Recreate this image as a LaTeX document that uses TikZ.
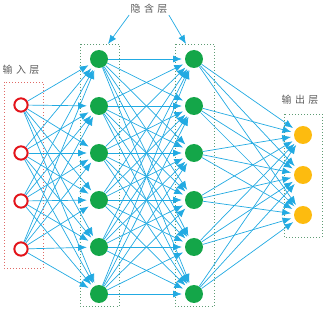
\documentclass[tikz,border=0pt]{standalone}
\usepackage{fontspec}
\newfontfamily\cjk{Noto Sans CJK SC}
\usetikzlibrary{arrows.meta}
\definecolor{linkblue}{HTML}{22AAE2}
\definecolor{inred}{HTML}{E3141B}
\definecolor{hidgreen}{HTML}{14A649}
\definecolor{outgold}{HTML}{FDBB0F}
\definecolor{boxgreen}{HTML}{5E9C74}
\definecolor{boxred}{HTML}{E06A66}
\definecolor{labelgray}{HTML}{5A5A5A}
\tikzset{>={Latex[length=7.5pt,width=6pt]},
  every node/.style={font=\cjk\fontsize{8.5pt}{10pt}\selectfont},
  link/.style={->,draw=linkblue,line width=.6pt,shorten >=2.5pt},
  layerbox/.style={draw=boxgreen,dotted,line width=.6pt},
  inbox/.style={draw=boxred,dotted,line width=.6pt},
  layertext/.style={text=labelgray,inner sep=1pt},
  innode/.style={circle,draw=inred,line width=1.7pt,minimum size=.4cm,inner sep=0pt},
  hidnode/.style={circle,fill=hidgreen,minimum size=.54cm,inner sep=0pt},
  outnode/.style={circle,fill=outgold,minimum size=.54cm,inner sep=0pt}}

\begin{document}
\begin{tikzpicture}[x=.03cm,y=-.03cm]
\path[use as bounding box] (0,0) rectangle (329,311);

% layer boxes
\draw[inbox] (4,82) rectangle (43,268);
\draw[layerbox] (80,44) rectangle (119,306);
\draw[layerbox] (175,44) rectangle (214,306);
\draw[layerbox] (284,114) rectangle (322,237);

% layer names
\node[layertext] (inlabel) at (21,70) {输\hspace{3pt}入\hspace{3pt}层};
\node[layertext] (hidlabel) at (149,9) {隐\hspace{3pt}含\hspace{3pt}层};
\node[layertext] (outlabel) at (300,100) {输\hspace{3pt}出\hspace{3pt}层};
\coordinate (hidtopa) at (108,44);
\coordinate (hidtopb) at (186,44);

% neurons
\foreach \i/\y in {1/105,2/153,3/201,4/249}
  \node[innode] (x\i) at (21,\y) {};
\foreach \i/\y in {1/59,2/106,3/153,4/200,5/247,6/294}{
  \node[hidnode] (a\i) at (99,\y) {};
  \node[hidnode] (b\i) at (194,\y) {};}
\foreach \i/\y in {1/135,2/175,3/215}
  \node[outnode] (y\i) at (303,\y) {};

% weights
\foreach \i in {1,...,4} \foreach \j in {1,...,6} \draw[link] (x\i) -- (a\j);
\foreach \i in {1,...,6} \foreach \j in {1,...,6} \draw[link] (a\i) -- (b\j);
\foreach \i in {1,...,6} \foreach \j in {1,...,3} \draw[link] (b\i) -- (y\j);
\draw[link,shorten >=0pt] (hidlabel.south west) -- (hidtopa);
\draw[link,shorten >=0pt] (hidlabel.south east) -- (hidtopb);
\end{tikzpicture}
\end{document}
